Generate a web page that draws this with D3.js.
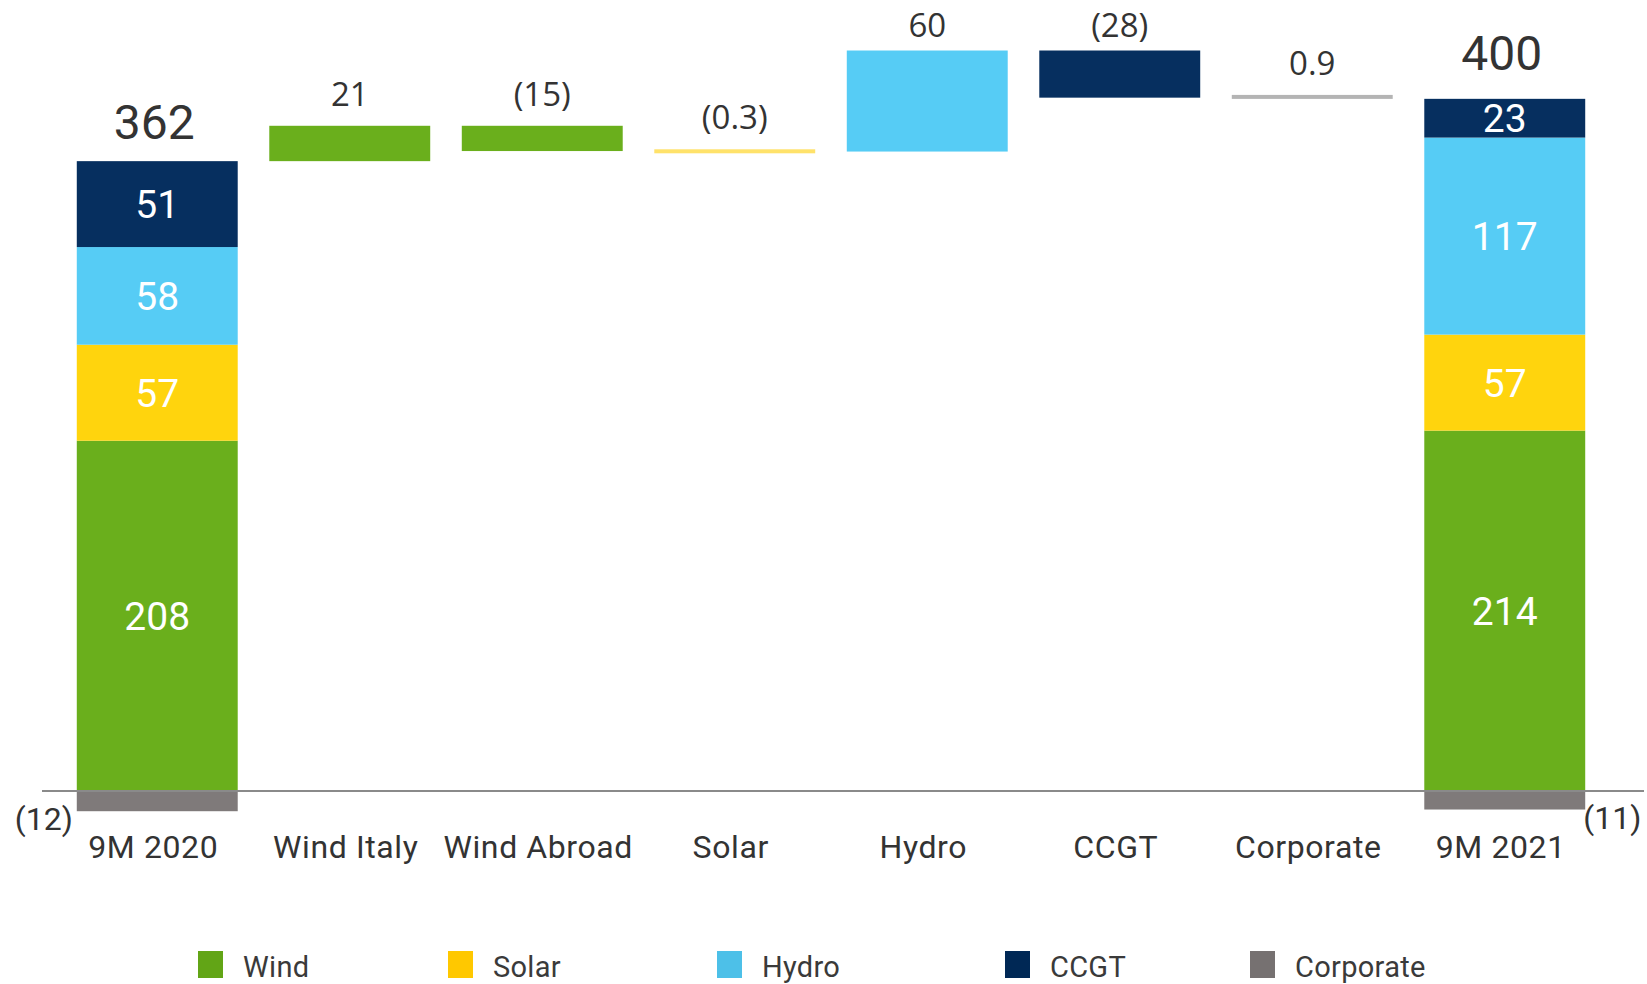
<!DOCTYPE html>
<html><head><meta charset="utf-8">
<script src="https://cdn.jsdelivr.net/npm/d3@7"></script>
<style>
html,body{margin:0;padding:0;background:#fff;}
svg{display:block;}
</style></head>
<body>
<svg id="chart" width="1647" height="984"></svg>
<script>
const categories = ["9M 2020","Wind Italy","Wind Abroad","Solar","Hydro","CCGT","Corporate","9M 2021"];
const sources = ["Wind","Solar","Hydro","CCGT","Corporate"];
const start2020 = [208, 57, 58, 51, -12];
const end2021 = [214, 57, 117, 23, -11];
const totals = [362, 400];
const deltaSources = ["Wind","Wind","Solar","Hydro","CCGT","Corporate"];
const deltas = [21, -15, -0.3, 60, -28, 0.9];
const deltaLabels = ["21","(15)","(0.3)","60","(28)","0.9"];
const totalLabels = ["362","400"];
const corpLabels = ["(12)","(11)"];

const barColor = {Wind:"#6AAF1C",Solar:"#FFD40D",Hydro:"#56CCF5",CCGT:"#062F5F",Corporate:"#7F7A7A"};
const thinColor = {Solar:"#FFE26A",Corporate:"#B4B4B4"};
const legendColor = {Wind:"#62A516",Solar:"#FFC800",Hydro:"#4DC0E8",CCGT:"#002855",Corporate:"#767171"};

const svg = d3.select("#chart");
const x = d3.scaleBand().domain(categories).range([61, 1601]).paddingInner(0.164).paddingOuter(0.082);
const y = d3.scaleLinear().domain([0, 440]).range([791, 50]);

const gBars = svg.append("g");

// stacked total bars
function stackBar(cat, vals, totalLabel, corpLabel, side, labelGap){
  let pos = 0;
  const segs = [];
  vals.forEach((v,i)=>{
    if (v >= 0){ segs.push({s:sources[i], y0:pos, y1:pos+v, v}); pos += v; }
    else { segs.push({s:sources[i], y0:v, y1:0, v}); }
  });
  gBars.selectAll(null).data(segs).enter().append("rect")
    .attr("x", x(cat)).attr("width", x.bandwidth())
    .attr("y", d=>y(d.y1)).attr("height", d=>y(d.y0)-y(d.y1))
    .attr("fill", d=>barColor[d.s]);
  gBars.selectAll(null).data(segs.filter(d=>d.v>0)).enter().append("text")
    .attr("x", x(cat)+x.bandwidth()/2).attr("y", d=>(y(d.y0)+y(d.y1))/2)
    .attr("dy","0.36em").attr("text-anchor","middle")
    .attr("font-family","Roboto, 'Liberation Sans', sans-serif").attr("font-size",39)
    .attr("fill","#fff").text(d=>d.v);
  gBars.append("text")
    .attr("x", x(cat)+x.bandwidth()/2 - 3).attr("y", y(pos)-labelGap)
    .attr("text-anchor","middle")
    .attr("font-family","Roboto, 'Liberation Sans', sans-serif").attr("font-size",48)
    .attr("fill","#333").text(totalLabel);
  const neg = vals[vals.length-1];
  gBars.append("text")
    .attr("x", side==="left" ? x(cat)-4 : x(cat)+x.bandwidth()-2)
    .attr("y", y(neg)+19)
    .attr("text-anchor", side==="left" ? "end" : "start")
    .attr("font-family","Roboto, 'Liberation Sans', sans-serif").attr("font-size",32)
    .attr("fill","#333").text(corpLabel);
  return pos;
}
let running = stackBar(categories[0], start2020, totalLabels[0], corpLabels[0], "left", 22);
stackBar(categories[7], end2021, totalLabels[1], corpLabels[1], "right", 29);

// waterfall deltas
deltas.forEach((d,i)=>{
  const cat = categories[i+1];
  const a = running, b = running + d;
  running = b;
  const top = Math.max(a,b), bot = Math.min(a,b);
  const thin = Math.abs(d) < 1;
  const h = y(bot)-y(top);
  const hh = thin ? 4 : h;
  const yy = thin ? (y(top)+y(bot))/2 - 2 : y(top);
  gBars.append("rect")
    .attr("x", x(cat)).attr("width", x.bandwidth())
    .attr("y", yy).attr("height", hh)
    .attr("fill", thin ? thinColor[deltaSources[i]] : barColor[deltaSources[i]]);
  const gap = Math.min(20, yy - 37);
  gBars.append("text")
    .attr("x", x(cat)+x.bandwidth()/2).attr("y", yy-gap)
    .attr("text-anchor","middle")
    .attr("font-family","'Open Sans', 'Noto Sans', sans-serif").attr("font-size",33)
    .attr("fill","#333").text(deltaLabels[i]);
});

// baseline axis
svg.append("line").attr("x1",42).attr("x2",1644).attr("y1",y(0)).attr("y2",y(0))
  .attr("stroke","#8a8a8a").attr("stroke-width",2);

// category labels
const xAxis = svg.append("g").attr("transform",`translate(-4,${y(0)})`)
  .call(d3.axisBottom(x).tickSize(0).tickPadding(0));
xAxis.select(".domain").remove();
xAxis.selectAll("text")
  .attr("y", 0).attr("dy", 0)
  .attr("transform","translate(0,67)")
  .attr("font-family","Roboto, 'Liberation Sans', sans-serif").attr("font-size",32)
  .attr("letter-spacing","0.6px")
  .attr("fill","#333");

// legend
const legendX = [198, 448, 717, 1005, 1250];
const lg = svg.append("g");
sources.forEach((s,i)=>{
  lg.append("rect").attr("x",legendX[i]).attr("y",951).attr("width",25).attr("height",27).attr("fill",legendColor[s]);
  lg.append("text").attr("x",legendX[i]+45).attr("y",977)
    .attr("font-family","Roboto, 'Liberation Sans', sans-serif").attr("font-size",29)
    .attr("letter-spacing","0.3px")
    .attr("fill","#3a3a3a").text(s);
});
</script>
</body></html>
